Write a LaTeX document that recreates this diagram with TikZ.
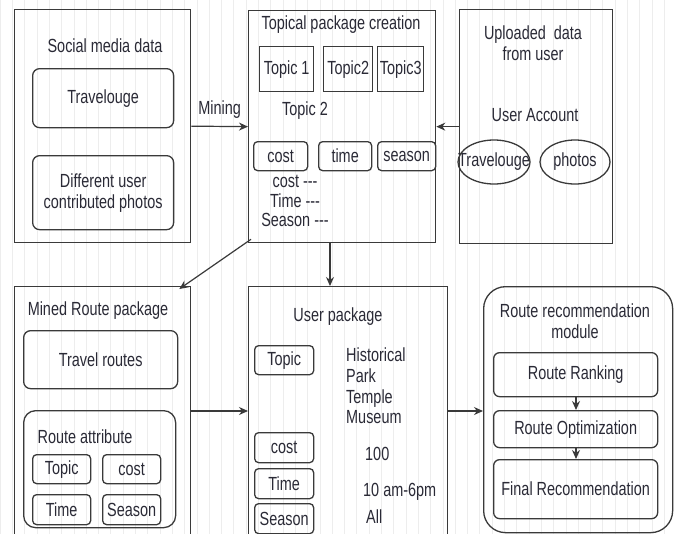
\documentclass[tikz,border=0pt]{standalone}
\usepackage{fontspec}
\setmainfont{Liberation Sans}[FakeStretch=0.76]
\usetikzlibrary{arrows.meta,calc}

\definecolor{linec}{HTML}{3A3A3A}
\definecolor{txt}{HTML}{2A2A36}
\definecolor{gridc}{HTML}{EDEDED}

\tikzset{
  every node/.style={font=\fontsize{19}{21}\selectfont, text=txt},
  box/.style={draw=linec, line width=1.3pt, inner sep=0pt, anchor=north west, align=center},
  rbox/.style={box, rounded corners=7pt},
  sbox/.style={box, rounded corners=4pt},
  oval/.style={draw=linec, line width=1.3pt},
  lbl/.style={inner sep=0pt, anchor=base, align=center},
  lbll/.style={inner sep=0pt, anchor=base west, align=left},
  arr/.style={-{Stealth[length=9pt,width=8pt]}, draw=linec, line width=1.2pt},
}

\begin{document}
\begin{tikzpicture}[x=1pt, y=-1pt]
\clip (0,0) rectangle (676,533);
\fill[white] (0,0) rectangle (676,533);
% background grid
\draw[gridc, line width=0.6pt, xstep=12.3, ystep=15] (0,-7) grid (680,540);

% ---------- top row ----------
\node[box, minimum width=176, minimum height=233] (soc) at (14,9) {};
\node[lbl] (socT) at (105,52) {Social media data};
\node[rbox, minimum width=141, minimum height=59] (trav) at (32,68) {Travelouge};
\node[rbox, minimum width=141, minimum height=74] (phot) at (32,155) {Different user\\contributed photos};

\node[box, minimum width=187, minimum height=232] (top) at (248,10) {};
\node[lbl] (topT) at (341,29) {Topical package creation};
\node[box, minimum width=54, minimum height=45] (t1) at (259,46) {Topic 1};
\node[box, minimum width=49, minimum height=45] (t2) at (323,46) {Topic2};
\node[box, minimum width=46, minimum height=45] (t3) at (377,46) {Topic3};
\node[lbl] (tsel) at (305,115) {Topic 2};
\node[sbox, minimum width=54, minimum height=29] (tcost) at (253,141) {cost};
\node[sbox, minimum width=53, minimum height=29] (ttime) at (318,141) {time};
\node[sbox, minimum width=58, minimum height=29] (tseas) at (377,141) {season};
\node[lbl] (lc) at (295,187) {cost -{}-{}-};
\node[lbl] (lt) at (295,207) {Time -{}-{}-};
\node[lbl] (ls) at (295,226) {Season -{}-{}-};

\node[box, minimum width=153, minimum height=234] (upl) at (459,9) {};
\node[lbl] (uplT) at (533,60) {Uploaded\ \ data\\from user};
\node[lbl] (acc) at (535,121) {User Account};
\node[inner sep=0pt] (etrav) at (494,162) {Travelouge};
\node[inner sep=0pt] (ephot) at (575,162) {photos};
\draw[oval] (etrav.center) ellipse [x radius=36, y radius=22];
\draw[oval] (ephot.center) ellipse [x radius=35, y radius=22];

% ---------- bottom row ----------
\node[box, minimum width=176, minimum height=280] (mined) at (14,286) {};
\node[lbl] (minedT) at (98,315) {Mined Route package};
\node[rbox, minimum width=154, minimum height=58] (routes) at (23,330) {Travel routes};
\node[box, rounded corners=12pt, minimum width=152, minimum height=117] (attr) at (23,410) {};
\node[lbl] (attrT) at (85,443) {Route attribute};
\node[sbox, minimum width=58, minimum height=29] (aTopic) at (32,454) {Topic};
\node[sbox, minimum width=58, minimum height=29] (aCost) at (102,454) {cost};
\node[sbox, minimum width=58, minimum height=30] (aTime) at (32,494) {Time};
\node[sbox, minimum width=58, minimum height=30] (aSeas) at (102,494) {Season};

\node[box, minimum width=199, minimum height=280] (user) at (248,286) {};
\node[lbl] (userT) at (338,321) {User package};
\node[sbox, minimum width=59, minimum height=29] (uTopic) at (254,345) {Topic};
\node[sbox, minimum width=59, minimum height=30] (uCost) at (254,432) {cost};
\node[sbox, minimum width=59, minimum height=30] (uTime) at (254,468) {Time};
\node[sbox, minimum width=59, minimum height=30] (uSeas) at (254,503) {Season};
\node[lbll] (vTopic) at (346,361) {Historical};
\node[lbll] (vPark) at (346,382) {Park};
\node[lbll] (vTemple) at (346,403) {Temple};
\node[lbll] (vMuseum) at (346,423) {Museum};
\node[lbll] (vCost) at (365,460) {100};
\node[lbll] (vTime) at (363,496) {10 am-6pm};
\node[lbll] (vSeas) at (366,523) {All};

\node[box, rounded corners=22pt, minimum width=189, minimum height=246] (rec) at (483,286) {};
\node[lbl] (recT) at (575,338) {Route recommendation\\module};
\node[box, rounded corners=6pt, minimum width=164, minimum height=44] (rank) at (493,352) {Route Ranking};
\node[box, rounded corners=6pt, minimum width=164, minimum height=37] (opt) at (493,410) {Route Optimization};
\node[box, rounded corners=6pt, minimum width=164, minimum height=59] (final) at (493,459) {Final Recommendation};

% ---------- connectors ----------
\coordinate (row) at (0,411);
\draw[arr] (soc.east) -- node[lbl, above=7pt] (mining) {Mining} (top.west);
\draw[arr] (upl.west) -- (top.east);
\draw[arr] ($(top.south west)+(3,-4)$) -- ($(mined.north east)+(-12,3)$);
\draw[arr] (top.south -| 330,0) -- (user.north -| 330,0);
\draw[arr] (mined.east |- row) -- (user.west |- row);
\draw[arr] (user.east |- row) -- (rec.west |- row);
\draw[arr] (rank.south -| 576,0) -- (opt.north -| 576,0);
\draw[arr] (opt.south -| 576,0) -- (final.north -| 576,0);
\end{tikzpicture}
\end{document}
